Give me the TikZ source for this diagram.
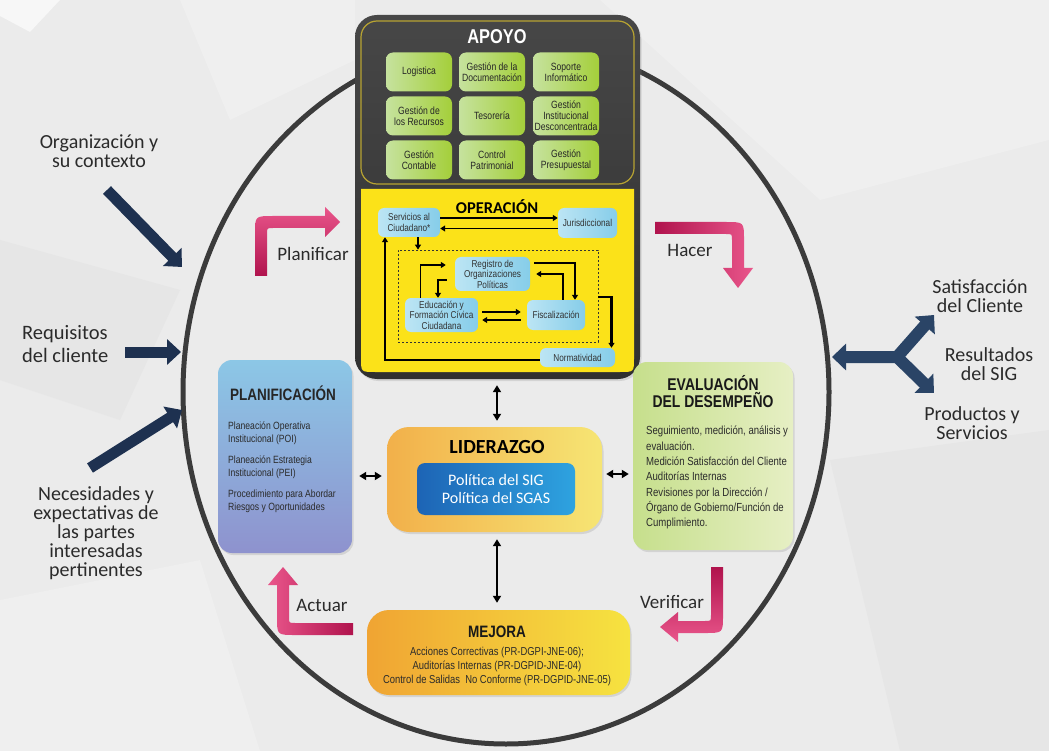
\documentclass[tikz,border=0pt]{standalone}
\usepackage{fontspec}
\setmainfont{Carlito}
\newfontfamily\nf[FakeStretch=0.82]{Liberation Sans}
\usetikzlibrary{arrows.meta,shadows,calc}
\definecolor{bg}{HTML}{EBEBEB}
\definecolor{bgl}{HTML}{EFEFEF}
\definecolor{bgd}{HTML}{E6E6E6}
\definecolor{ring}{HTML}{3B3B3B}
\definecolor{navy}{HTML}{1E3150}
\definecolor{navyb}{HTML}{2A4466}
\definecolor{txt}{HTML}{2B2B2B}
\definecolor{darkT}{HTML}{474747}
\definecolor{darkB}{HTML}{303030}
\definecolor{olive}{HTML}{B7A332}
\definecolor{opy}{HTML}{FBE219}
\definecolor{gL}{HTML}{C6E29E}
\definecolor{gR}{HTML}{A4CF3A}
\definecolor{bL}{HTML}{BCE5F4}
\definecolor{bR}{HTML}{86CDE9}
\definecolor{plT}{HTML}{8CC7E6}
\definecolor{plB}{HTML}{8E92CE}
\definecolor{evL}{HTML}{C6DF8C}
\definecolor{evR}{HTML}{E6EFC4}
\definecolor{orL}{HTML}{F0A433}
\definecolor{orR}{HTML}{F6E340}
\definecolor{ldL}{HTML}{F2B04A}
\definecolor{ldR}{HTML}{F6E574}
\definecolor{blL}{HTML}{1D64B5}
\definecolor{blR}{HTML}{2EA3E0}
\definecolor{pdark}{HTML}{B0134D}
\definecolor{plight}{HTML}{E9568B}
\tikzset{
  shd/.style={drop shadow={opacity=0.22,shadow xshift=1.5pt,shadow yshift=-2pt}},
  gbox/.style={rounded corners=7pt, left color=gL, right color=gR, minimum width=66pt, minimum height=39pt, inner sep=1pt, align=center, font=\nf\fontsize{10.5}{11}\selectfont, text=black!85},
  obox/.style={rounded corners=6pt, left color=bL, right color=bR, inner sep=1pt, align=center, font=\nf\fontsize{10}{10.5}\selectfont, text=black!80},
  oarr/.style={line width=1.8pt, -{Triangle[length=5pt,width=6pt]}},
  larr/.style={line width=2.4pt, {Triangle[length=7pt,width=8pt]}-{Triangle[length=7pt,width=8pt]}},
  navyarr/.style={draw=navy, line width=11pt, -{Triangle[length=14pt,width=25pt]}},
  lbl/.style={font=\fontsize{20}{19}\selectfont, text=txt, align=center, inner sep=0},
  pdca/.style={font=\fontsize{19}{20}\selectfont, text=txt, inner sep=0},
  ttl/.style={font=\nf\bfseries\fontsize{16.5}{17}\selectfont, text=black!90, inner sep=0, align=center},
  body/.style={font=\nf\fontsize{10.5}{13}\selectfont, text=txt, inner sep=0, align=left},
}
\begin{document}
\begin{tikzpicture}[x=1pt,y=-1pt]
\useasboundingbox (0,0) rectangle (1049,751);
% background facets
\fill[bg] (0,0) rectangle (1049,751);
\fill[bgl] (600,0) -- (1049,0) -- (1049,140) -- (820,200) -- cycle;
\fill[bgd] (0,240) -- (180,290) -- (120,420) -- (0,380) -- cycle;
\fill[bgl] (0,600) -- (200,560) -- (260,751) -- (0,751) -- cycle;
\fill[bgd] (830,460) -- (1049,430) -- (1049,751) -- (900,751) -- cycle;
\fill[bgl] (180,0) -- (355,0) -- (355,60) -- (230,120) -- cycle;
\fill[white!60!bg] (0,0) -- (60,0) -- (30,32) -- (0,16) -- cycle;
% ring
\draw[ring, line width=5pt] (506,392) ellipse [x radius=323, y radius=352];

% top dark block
\node[rounded corners=22pt, top color=darkT, bottom color=darkB, minimum width=285pt, minimum height=364pt, inner sep=0, shd] (sup) at (497.5,197) {};
\draw[olive, line width=1.2pt, rounded corners=16pt] (361,21) rectangle (634,184);
\fill[opy] (361,189) -- (634,189) -- (634,358) .. controls (634,372) .. (620,372) -- (375,372) .. controls (361,372) .. (361,358) -- cycle;
\node[font=\nf\bfseries\fontsize{20}{20}\selectfont, text=white, inner sep=0] (apoyo) at (497,37) {APOYO};

% green boxes
\node[gbox] (g11) at (419,72) {Logistica};
\node[gbox] (g12) at (492,72) {Gestión de la\\Documentación};
\node[gbox] (g13) at (566,72) {Soporte\\Informático};
\node[gbox] (g21) at (419,116) {Gestión de\\los Recursos};
\node[gbox] (g22) at (492,116) {Tesorería};
\node[gbox] (g23) at (566,116) {Gestión\\Institucional\\Desconcentrada};
\node[gbox] (g31) at (419,160) {Gestión\\Contable};
\node[gbox] (g32) at (492,160) {Control\\Patrimonial};
\node[gbox] (g33) at (566,160) {Gestión\\Presupuestal};

% operacion
\node[font=\bfseries\fontsize{16.5}{17}\selectfont, text=black, inner sep=0] (oper) at (497,207) {OPERACIÓN};
\node[obox, minimum width=62pt, minimum height=29pt] (serv) at (409,222.5) {Servicios al\\Ciudadano*};
\node[obox, minimum width=59pt, minimum height=30pt] (juri) at (587.5,223) {Jurisdiccional};
\node[draw=black!80, dashed, dash pattern=on 2pt off 2pt, line width=0.8pt, minimum width=200pt, minimum height=92pt, inner sep=0] (dbox) at (498,296) {};
\node[obox, minimum width=75pt, minimum height=34pt] (reg) at (492.5,274) {Registro de\\Organizaciones\\Políticas};
\node[obox, minimum width=73pt, minimum height=34pt] (educ) at (441.5,315) {Educación y\\Formación Cívica\\Ciudadana};
\node[obox, minimum width=58pt, minimum height=30pt] (fisc) at (556,315) {Fiscalización};
\node[obox, minimum width=75pt, minimum height=19pt] (norm) at (577.5,357.5) {Normatividad};

\draw[oarr] ([yshift=4.5pt]serv.east) -- ([yshift=4.5pt]serv.east -| juri.west);
\draw[oarr] ([yshift=-5.5pt]juri.west) -- ([yshift=-5.5pt]juri.west -| serv.east);
\draw[oarr] ([xshift=9pt]serv.south) -- ([xshift=9pt]serv.south |- dbox.north);
\draw[oarr, shorten >=9pt] ([xshift=-21pt]educ.north) |- ([yshift=9pt]reg.west);
\draw[oarr, shorten <=8pt] ([yshift=-6pt]reg.west) -| ([xshift=-3.5pt]educ.north);
\draw[oarr, shorten <=4pt] ([yshift=11pt]reg.east) -| ([xshift=19pt]fisc.north);
\draw[oarr, shorten >=6pt] ([xshift=7pt]fisc.north) |- (reg.east);
\draw[oarr, shorten <=4pt, shorten >=6pt] ([yshift=3pt]educ.east) -- ([yshift=3pt]educ.east -| fisc.west);
\draw[oarr, shorten <=6pt, shorten >=4pt] ([yshift=-5pt]fisc.west) -- ([yshift=-5pt]fisc.west -| educ.east);
\draw[oarr, line width=2.6pt] ([yshift=-1pt]dbox.east) -| ([xshift=34pt]norm.north);
\draw[oarr] ([yshift=-2.5pt]norm.west) -| ([xshift=-24pt]serv.south);

% planificacion
\node[rounded corners=14pt, top color=plT, bottom color=plB, minimum width=134pt, minimum height=193pt, inner sep=0, shd] (plan) at (285,456.5) {};
\node[ttl, text=black!85] (plant) at (283,393) {PLANIFICACIÓN};
\node[body, anchor=north west] (planb) at (228,422) {Planeación Operativa\\Institucional (POI)\\[8pt]Planeación Estrategia\\Institucional (PEI)\\[8pt]Procedimiento para Abordar\\Riesgos y Oportunidades};

% evaluacion
\node[rounded corners=14pt, left color=evL, right color=evR, minimum width=160pt, minimum height=188pt, inner sep=0, shd] (eval) at (713,456) {};
\node[ttl, font=\nf\bfseries\fontsize{17}{17}\selectfont] (evalt) at (713,391.5) {EVALUACIÓN\\DEL DESEMPEÑO};
\node[body, font=\nf\fontsize{11.7}{15.3}\selectfont, anchor=north west] (evalb) at (646,426) {Seguimiento, medición, análisis y\\evaluación.\\Medición Satisfacción del Cliente\\Auditorías Internas\\Revisiones por la Dirección /\\Órgano de Gobierno/Función de\\Cumplimiento.};

% liderazgo
\node[rounded corners=22pt, left color=ldL, right color=ldR, minimum width=215pt, minimum height=105pt, inner sep=0, shd] (lid) at (494.5,479.5) {};
\node[font=\bfseries\fontsize{20}{20}\selectfont, text=black, inner sep=0] (lidt) at (497,447) {LIDERAZGO};
\node[rounded corners=8pt, left color=blL, right color=blR, minimum width=158pt, minimum height=52pt, inner sep=0, text=white, align=center, font=\fontsize{16}{18}\selectfont] (pol) at (496,489) {Política del SIG\\Política del SGAS};

% mejora
\node[rounded corners=22pt, left color=orL, right color=orR, minimum width=263pt, minimum height=85pt, inner sep=0, shd] (mej) at (498.5,652.5) {};
\node[ttl] (mejt) at (497,632) {MEJORA};
\node[body, font=\nf\fontsize{11.5}{14}\selectfont, align=center] (mejb) at (497,667) {Acciones Correctivas (PR-DGPI-JNE-06);\\Auditorías Internas (PR-DGPID-JNE-04)\\Control de Salidas\ \ No Conforme (PR-DGPID-JNE-05)};

% liderazgo connectors
\draw[larr, shorten <=6pt, shorten >=6pt] (lid.north -| 497,0) -- (sup.south -| 497,0);
\draw[larr, shorten <=7pt, shorten >=7pt] (lid.south -| 497,0) -- (mej.north -| 497,0);
\draw[larr, shorten <=7pt, shorten >=5pt] (plan.east |- 0,476) -- (lid.west |- 0,476);
\draw[larr, shorten <=4pt, shorten >=4pt] (lid.east |- 0,474) -- (eval.west |- 0,474);

% PDCA pink arrows
\shade[top color=plight, bottom color=pdark] (255,276) -- (255,234) .. controls (255,216) .. (273,216) -- (325,216) -- (325,207) -- (340,222) -- (325,237) -- (325,228) -- (273,228) .. controls (267,228) .. (267,234) -- (267,276) -- cycle;
\shade[left color=pdark, right color=plight] (655,222) -- (726,222) .. controls (744,222) .. (744,240) -- (744,268) -- (753,268) -- (738,288) -- (723,268) -- (732,268) -- (732,240) .. controls (732,234) .. (726,234) -- (655,234) -- cycle;
\shade[top color=pdark, bottom color=plight] (711,567) -- (723,567) -- (723,615) .. controls (723,633) .. (705,633) -- (678,633) -- (678,642) -- (660,627) -- (678,612) -- (678,621) -- (705,621) .. controls (711,621) .. (711,615) -- cycle;
\shade[left color=plight, right color=pdark] (353,623) -- (295,623) .. controls (289,623) .. (289,617) -- (289,585) -- (298,585) -- (283,567) -- (268,585) -- (277,585) -- (277,617) .. controls (277,635) .. (295,635) -- (353,635) -- cycle;
\node[pdca] (lplan) at (313,254) {Planificar};
\node[pdca] (lhac) at (690,250) {Hacer};
\node[pdca] (lact) at (322,605) {Actuar};
\node[pdca] (lver) at (672,602) {Verificar};

% left inputs
\node[lbl] (in1) at (99,151) {Organización y\\su contexto};
\node[lbl, align=left, anchor=west, font=\fontsize{20.5}{23}\selectfont] (in2) at (22,344.5) {Requisitos\\del cliente};
\node[lbl] (in3) at (96,533) {Necesidades y\\expectativas de\\las partes\\interesadas\\pertinentes};
\coordinate (t1) at (107,190); \coordinate (h1) at (182,267);
\coordinate (t2) at (125,352); \coordinate (h2) at (181,352);
\coordinate (t3) at (90,468);  \coordinate (h3) at (182,410);
\draw[navyarr] (t1) -- (h1);
\draw[navyarr] (t2) -- (h2);
\draw[navyarr] (t3) -- (h3);

% right outputs
\coordinate (jn) at (897,357);
\coordinate (oL) at (832,357);
\coordinate (oU) at (934,315);
\coordinate (oD) at (934,393);
\draw[draw=navyb, line width=12pt, line join=round, {Triangle[length=14pt,width=26pt]}-{Triangle[length=14pt,width=26pt]}] (oU) -- (jn) -- (oL);
\draw[draw=navyb, line width=12pt, -{Triangle[length=14pt,width=26pt]}] (jn) -- (oD);
\node[lbl] (out1) at (980,296) {Satisfacción\\del Cliente};
\node[lbl] (out2) at (989,364) {Resultados\\del SIG};
\node[lbl] (out3) at (972,423) {Productos y\\Servicios};
\end{tikzpicture}
\end{document}
